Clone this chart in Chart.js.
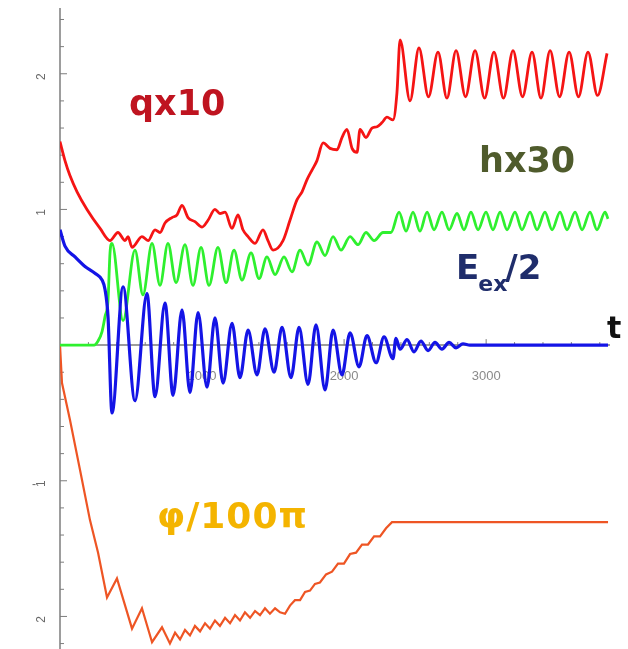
<!DOCTYPE html>
<html><head><meta charset="utf-8">
<script src="https://cdn.jsdelivr.net/npm/chart.js@4"></script>
<style>html,body{margin:0;padding:0;background:#fff;overflow:hidden}#wrap{position:relative;width:628px;height:649px}</style>
</head><body><div id="wrap"><canvas id="c" width="628" height="649"></canvas></div>
<script>
// q x 10 (red)
const qT=[0,35,70,120,190,282,352,408,458,479,507,577,620,669,704,739,788,824,859,901,950,1000,1042,1091,1126,1162,1211,1253,1288,1324,1373,1429,1464,1500,1570,1619,1668,1704,1739,1774,1809,1852,1901,1950,1985,2020,2056,2091,2112,2154,2196,2232,2267,2302,2344,2372,2394,2464,2527,2594,2661,2724,2788,2855,2922,2989,3055,3122,3189,3256,3323,3386,3450,3517,3584,3650,3717,3784,3851];
const qV=[1.50,1.36,1.25,1.13,1.00,0.86,0.77,0.83,0.77,0.80,0.72,0.80,0.77,0.85,0.83,0.90,0.94,0.96,1.03,0.94,0.91,0.87,0.92,1.00,0.97,0.98,0.86,0.96,0.85,0.80,0.75,0.85,0.77,0.70,0.77,0.92,1.07,1.13,1.22,1.29,1.36,1.49,1.45,1.44,1.53,1.59,1.45,1.42,1.59,1.53,1.60,1.61,1.64,1.68,1.66,1.86,2.25,1.80,2.19,1.83,2.16,1.82,2.17,1.83,2.17,1.82,2.16,1.82,2.17,1.83,2.16,1.82,2.17,1.83,2.16,1.83,2.16,1.84,2.15];
// h x 30 (green)
const hT=[0,240,268,296,317,338,352,366,444,528,584,648,704,760,817,880,936,993,1049,1112,1169,1225,1281,1345,1401,1457,1514,1577,1633,1690,1746,1809,1866,1922,1978,2042,2098,2154,2211,2274,2330,2387,2436,2485,2534,2584,2633,2689,2739,2795,2844,2893,2943,2999,3048,3098,3147,3203,3252,3309,3358,3414,3464,3520,3569,3626,3675,3731,3780,3837,3858];
const hV=[0,0,0.03,0.10,0.21,0.33,0.68,0.75,0.18,0.70,0.37,0.75,0.44,0.75,0.46,0.74,0.44,0.72,0.44,0.72,0.46,0.70,0.48,0.68,0.49,0.65,0.52,0.65,0.54,0.70,0.59,0.76,0.66,0.80,0.70,0.80,0.74,0.83,0.77,0.83,0.83,0.98,0.84,0.98,0.84,0.98,0.85,0.98,0.85,0.97,0.85,0.98,0.85,0.98,0.85,0.98,0.85,0.98,0.85,0.98,0.85,0.98,0.85,0.98,0.85,0.98,0.85,0.98,0.85,0.98,0.93];
// E_ex / 2 (blue)
const eT=[0,35,106,176,246,296,317,338,366,444,528,612,669,739,796,859,915,972,1035,1091,1148,1211,1267,1324,1387,1443,1507,1563,1626,1683,1746,1802,1866,1922,1985,2042,2105,2161,2225,2281,2344,2365,2394,2443,2492,2541,2591,2640,2689,2739,2788,2837,2886,3858];
const eV=[0.85,0.73,0.65,0.58,0.53,0.48,0.41,0.21,-0.50,0.43,-0.41,0.38,-0.38,0.31,-0.37,0.26,-0.35,0.24,-0.31,0.20,-0.28,0.16,-0.24,0.11,-0.22,0.12,-0.20,0.13,-0.24,0.13,-0.29,0.15,-0.33,0.11,-0.22,0.09,-0.16,0.07,-0.13,0.06,-0.10,0.05,-0.03,0.04,-0.05,0.03,-0.04,0.02,-0.03,0.02,-0.02,0.01,0,0];
// phi / 100 pi (orange)
const pT=[0,14,70,141,211,268,331,401,507,577,648,718,774,810,845,880,915,950,986,1021,1056,1091,1126,1162,1197,1232,1267,1302,1338,1373,1408,1443,1478,1514,1549,1584,1619,1654,1690,1725,1760,1795,1830,1873,1915,1957,1999,2042,2084,2126,2168,2211,2253,2295,2337,3858];
const pV=[0,-0.28,-0.55,-0.92,-1.29,-1.53,-1.86,-1.72,-2.09,-1.94,-2.19,-2.08,-2.20,-2.12,-2.17,-2.10,-2.14,-2.07,-2.11,-2.05,-2.09,-2.03,-2.07,-2.01,-2.05,-1.99,-2.03,-1.97,-2.01,-1.96,-1.99,-1.94,-1.98,-1.94,-1.97,-1.98,-1.92,-1.88,-1.88,-1.82,-1.81,-1.76,-1.75,-1.69,-1.67,-1.61,-1.61,-1.54,-1.53,-1.47,-1.47,-1.41,-1.41,-1.35,-1.305,-1.305];

const yTickValues=[2,1,-1,-2];
const yTickLabels=['2','1','-1','2'];
const xTickValues=[1000,2000,3000];
const xTickLabels=['1000','2000','3000'];

function pts(T,V){const n=Math.min(T.length,V.length);const a=[];for(let i=0;i<n;i++)a.push({x:T[i],y:V[i]});return a;}

const axesPlugin={
  id:'axesPlugin',
  beforeDatasetsDraw(chart){
    const ctx=chart.ctx, xs=chart.scales.x, ys=chart.scales.y;
    const x0=xs.getPixelForValue(0), y0=ys.getPixelForValue(0);
    ctx.save();
    ctx.strokeStyle='#7d7d7d';
    ctx.lineWidth=1.5;
    ctx.beginPath();
    ctx.moveTo(x0,chart.chartArea.top-2);ctx.lineTo(x0,chart.height);
    ctx.moveTo(x0,y0);ctx.lineTo(chart.chartArea.right-4,y0);
    ctx.stroke();
    ctx.lineWidth=1;
    ctx.beginPath();
    for(let k=-11;k<=12;k++){
      if(k===0)continue;
      const py=ys.getPixelForValue(k/5);
      const len=(k%5===0)?7:4;
      ctx.moveTo(x0,py);ctx.lineTo(x0+len,py);
    }
    for(let t=200;t<=3800;t+=200){
      const px=xs.getPixelForValue(t);
      const len=(t%1000===0)?6:3;
      ctx.moveTo(px,y0);ctx.lineTo(px,y0-len);
    }
    ctx.stroke();
    ctx.fillStyle='#6a6a6a';
    ctx.font='12px "Liberation Sans", Arial, sans-serif';
    ctx.textAlign='center';ctx.textBaseline='middle';
    yTickValues.forEach((v,i)=>{
      const py=ys.getPixelForValue(v);
      const s=yTickLabels[i];
      const cx=42;
      if(s.startsWith('-')){ctx.fillText('-',cx-8,py+4);}
      const d=s.replace('-','');
      ctx.save();ctx.translate(cx,py+3);ctx.rotate(-Math.PI/2);ctx.fillText(d,0,0);ctx.restore();
    });
    ctx.fillStyle='#8a8a8a';
    ctx.font='13px "Liberation Sans Narrow", "Liberation Sans", Arial, sans-serif';
    xTickValues.forEach((v,i)=>{
      ctx.fillText(xTickLabels[i],xs.getPixelForValue(v),y0+31);
    });
    ctx.restore();
  },
  afterDatasetsDraw(chart){
    const ctx=chart.ctx;
    ctx.save();
    ctx.textAlign='left';ctx.textBaseline='alphabetic';
    ctx.fillStyle='#bf1420';
    ctx.font='bold 35px "DejaVu Sans", Verdana, sans-serif';
    ctx.fillText('qx10',129,115);
    ctx.fillStyle='#4f5b2c';
    ctx.fillText('hx30',479,172);
    ctx.fillStyle='#1f2d6b';
    ctx.font='bold 34px "DejaVu Sans", Verdana, sans-serif';
    ctx.fillText('E',456,279);
    const w=ctx.measureText('E').width;
    ctx.font='bold 22px "DejaVu Sans", Verdana, sans-serif';
    ctx.fillText('ex',456+w-1,291);
    const w2=ctx.measureText('ex').width;
    ctx.font='bold 34px "DejaVu Sans", Verdana, sans-serif';
    ctx.fillText('/2',456+w+w2-3,279);
    ctx.fillStyle='#f4b400';
    ctx.font='bold 36px "DejaVu Sans", Verdana, sans-serif';
    try{ctx.letterSpacing='1px';}catch(e){}
    ctx.fillText('φ/100π',157,528);
    try{ctx.letterSpacing='0px';}catch(e){}
    ctx.fillStyle='#111';
    ctx.font='bold 30px "DejaVu Sans", Verdana, sans-serif';
    ctx.fillText('t',607,338);
    ctx.restore();
  }
};

new Chart(document.getElementById('c'),{
  type:'line',
  data:{datasets:[
    {label:'E_ex/2',data:pts(eT,eV),borderColor:'#1414e6',borderWidth:3.2,pointRadius:0,cubicInterpolationMode:'monotone',order:0},
    {label:'hx30',data:pts(hT,hV),borderColor:'#2ef02e',borderWidth:2.8,pointRadius:0,cubicInterpolationMode:'monotone',order:1},
    {label:'qx10',data:pts(qT,qV),borderColor:'#f51414',borderWidth:2.8,pointRadius:0,cubicInterpolationMode:'monotone',order:2},
    {label:'φ/100π',data:pts(pT,pV),borderColor:'#ee5524',borderWidth:2.2,pointRadius:0,tension:0,order:3}
  ]},
  options:{
    responsive:false,animation:false,events:[],
    layout:{padding:{left:60,right:14,top:10,bottom:0}},
    plugins:{legend:{display:false},tooltip:{enabled:false}},
    scales:{
      x:{type:'linear',min:0,max:3900,display:false},
      y:{type:'linear',min:-2.24,max:2.47,display:false}
    }
  },
  plugins:[axesPlugin]
});
</script></body></html>
